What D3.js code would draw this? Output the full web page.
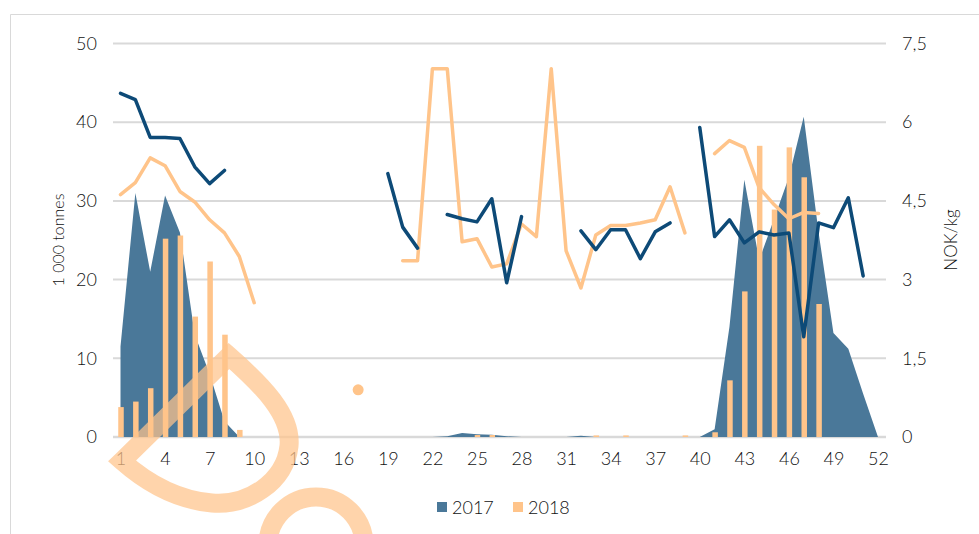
<!DOCTYPE html>
<html>
<head>
<meta charset="utf-8">
<script src="https://cdn.jsdelivr.net/npm/d3@7"></script>
<style>
  body { margin: 0; background: #fff; }
  svg text { font-family: Lato, "DejaVu Sans", sans-serif; font-weight: 300; fill: #111; }
</style>
</head>
<body>
<div id="chart"></div>
<script>
// weeks 1..52
var weeks = d3.range(1, 53);
var xTickLabels = [1, 4, 7, 10, 13, 16, 19, 22, 25, 28, 31, 34, 37, 40, 43, 46, 49, 52];
var leftTicks = [0, 10, 20, 30, 40, 50];
var rightTicks = [0, 1.5, 3, 4.5, 6, 7.5];

// volume, 1 000 tonnes
var volume2017 = [11.5, 31, 21, 30.7, 26, 13, 8, 2, 0, 0,
                  0, 0, 0, 0, 0, 0, 0, 0, 0, 0,
                  0, 0, 0.1, 0.5, 0.35, 0.3, 0.1, 0, 0, 0,
                  0, 0.15, 0, 0, 0, 0, 0, 0, 0, 0,
                  1, 14, 32.7, 22.5, 27.7, 33, 40.7, 26, 13.2, 11.2,
                  5.5, 0];
var volume2018 = [3.8, 4.5, 6.2, 25.2, 25.6, 15.3, 22.3, 13, 0.9, 0,
                  0, 0, 0, 0, 0, 0, 0, 0, 0, 0,
                  0, 0, 0, 0, 0.25, 0.25, 0, 0, 0, 0,
                  0, 0, 0.2, 0, 0.2, 0, 0, 0, 0.2, 0,
                  0.6, 7.2, 18.5, 37, 28.9, 36.8, 33, 16.9, 0, 0,
                  0, 0];

// price, NOK/kg
var price2017 = [6.55, 6.43, 5.71, 5.71, 5.69, 5.15, 4.83, 5.08, null, null,
                 null, null, null, null, null, null, null, null, 5.02, 4.0,
                 3.6, null, 4.24, 4.16, 4.1, 4.54, 2.94, 4.2, null, null,
                 null, 3.93, 3.57, 3.95, 3.95, 3.4, 3.91, 4.08, null, 5.9,
                 3.82, 4.14, 3.7, 3.91, 3.85, 3.89, 1.91, 4.08, 3.99, 4.56,
                 3.07, null];
var price2018 = [4.62, 4.85, 5.32, 5.17, 4.68, 4.48, 4.14, 3.89, 3.44, 2.56,
                 null, null, null, null, null, null, 0.9, null, null, 3.36,
                 3.36, 7.02, 7.02, 3.72, 3.78, 3.24, 3.3, 4.06, 3.82, 7.02,
                 3.55, 2.84, 3.85, 4.03, 4.03, 4.08, 4.14, 4.77, 3.89, null,
                 5.4, 5.65, 5.52, 4.75, 4.43, 4.16, 4.28, 4.26, null, null,
                 null, null];

var seriesNames = ['2017', '2018'];

var W = 979, H = 534;
var colArea = '#4a7899', colBar = '#ffc48a', colLine17 = '#0d4a77', colLine18 = '#ffc48a';

var svg = d3.select('#chart').append('svg')
    .attr('width', W).attr('height', H);

// frame
svg.append('path').attr('d', 'M10.5,' + H + ' V14.5 H' + W)
    .attr('fill', 'none').attr('stroke', '#d9d9d9').attr('stroke-width', 1);

var x = d3.scalePoint().domain(weeks).range([120.5, 878]);
var yL = d3.scaleLinear().domain([0, 50]).range([437, 43.5]);
var yR = d3.scaleLinear().domain([0, 7.5]).range([437, 43.5]);

// gridlines
svg.append('g').selectAll('line').data(leftTicks).enter().append('line')
    .attr('x1', 113).attr('x2', 886)
    .attr('y1', function(d) { return yL(d); })
    .attr('y2', function(d) { return yL(d); })
    .attr('stroke', '#d9d9d9')
    .attr('stroke-width', function(d) { return d === 0 ? 2.5 : 2; });

// left axis
var axL = svg.append('g').attr('transform', 'translate(97,0)')
    .call(d3.axisLeft(yL).tickValues(leftTicks).tickSize(0).tickPadding(0));
axL.select('.domain').remove();
axL.selectAll('text').attr('font-size', 18).style('font-family', null);

// right axis
var fmtR = function(d) { return String(d).replace('.', ','); };
var axR = svg.append('g').attr('transform', 'translate(902,0)')
    .call(d3.axisRight(yR).tickValues(rightTicks).tickFormat(fmtR).tickSize(0).tickPadding(0));
axR.select('.domain').remove();
axR.selectAll('text').attr('font-size', 18).style('font-family', null);

// x axis
var axX = svg.append('g').attr('transform', 'translate(0,452)')
    .call(d3.axisBottom(x).tickValues(xTickLabels).tickSize(0).tickPadding(0));
axX.select('.domain').remove();
axX.selectAll('text').attr('font-size', 18).attr('dy', '0.71em').style('font-family', null);

// axis titles
svg.append('text').attr('transform', 'translate(64,240) rotate(-90)')
    .attr('text-anchor', 'middle').attr('font-size', 16).text('1 000 tonnes');
svg.append('text').attr('transform', 'translate(957,240) rotate(-90)')
    .attr('text-anchor', 'middle').attr('font-size', 17).text('NOK/kg');

// 2017 volume area
var area = d3.area()
    .x(function(d, i) { return x(weeks[i]); })
    .y0(yL(0))
    .y1(function(d) { return yL(d); });
svg.append('path').datum(volume2017)
    .attr('d', area).attr('fill', colArea);

// 2018 volume bars
var barW = 5.5;
svg.append('g').selectAll('rect').data(volume2018).enter().append('rect')
    .attr('x', function(d, i) { return x(weeks[i]) - barW / 2 + 0.5; })
    .attr('y', function(d) { return yL(d); })
    .attr('width', barW)
    .attr('height', function(d) { return yL(0) - yL(d); })
    .attr('fill', colBar);

// price lines
var line = d3.line()
    .defined(function(d) { return d !== null; })
    .x(function(d, i) { return x(weeks[i]); })
    .y(function(d) { return yR(d); });

function drawPrice(vals, col) {
  svg.append('path').datum(vals)
      .attr('d', line).attr('fill', 'none')
      .attr('stroke', col).attr('stroke-width', 3.5)
      .attr('stroke-linejoin', 'round').attr('stroke-linecap', 'round');
  // isolated points
  vals.forEach(function(v, i) {
    if (v === null) return;
    var prev = i > 0 ? vals[i - 1] : null, next = i < vals.length - 1 ? vals[i + 1] : null;
    if (prev === null && next === null) {
      svg.append('circle').attr('cx', x(weeks[i])).attr('cy', yR(v))
          .attr('r', 5.5).attr('fill', col);
    }
  });
}
drawPrice(price2018, colLine18);
drawPrice(price2017, colLine17);

// legend
var legend = svg.append('g').selectAll('g').data(seriesNames).enter().append('g')
    .attr('transform', function(d, i) { return 'translate(' + (437 + i * 76) + ',0)'; });
legend.append('rect').attr('x', 0).attr('y', 502).attr('width', 10).attr('height', 10)
    .attr('fill', function(d, i) { return i === 0 ? colArea : colBar; });
legend.append('text').attr('x', 15).attr('y', 514).attr('font-size', 18)
    .text(function(d) { return d; });

// watermark strokes
var wm = svg.append('g').attr('fill', 'none').attr('stroke', colBar)
    .attr('stroke-opacity', 0.72).attr('stroke-width', 19);
wm.append('path')
    .attr('d', 'M122,461 L229,356 C262,385 292,415 289,446 C285,482 248,506 212,503 C178,500 148,484 122,461 Z')
    .attr('stroke-linejoin', 'miter');
wm.append('path')
    .attr('d', 'M268,545 A46,46 0 0 1 364,545');
</script>
</body>
</html>
